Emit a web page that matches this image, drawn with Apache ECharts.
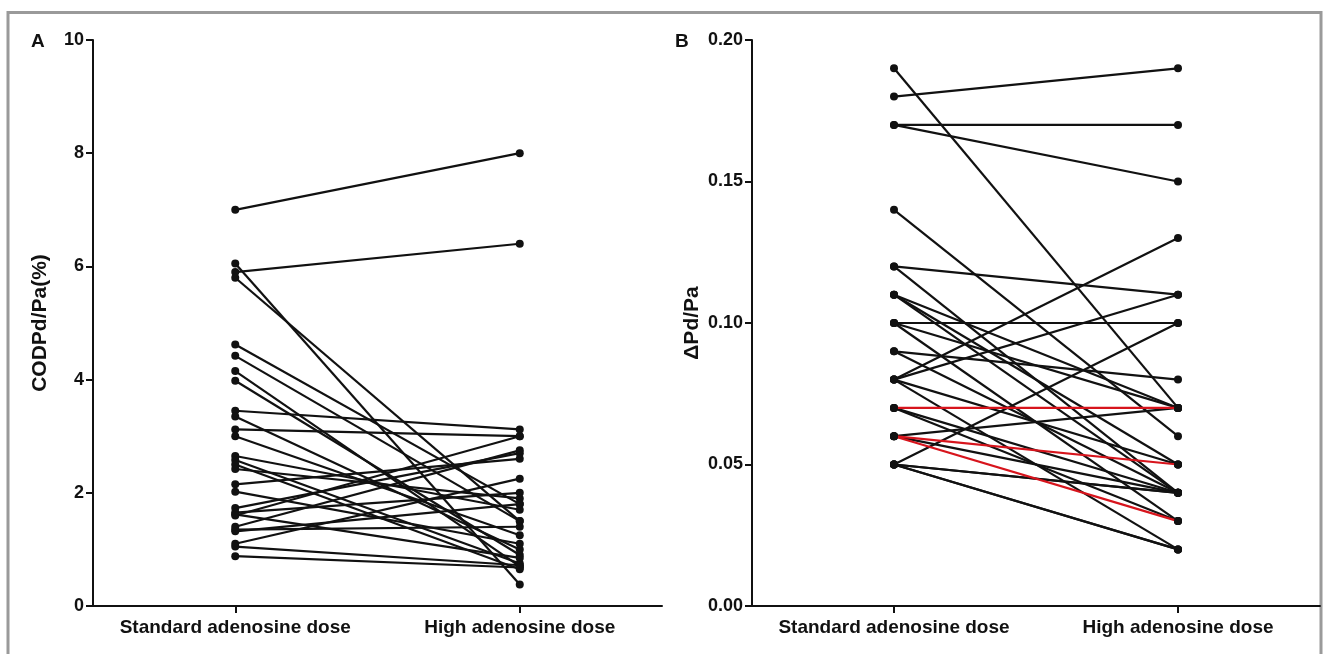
<!DOCTYPE html>
<html>
<head>
<meta charset="utf-8">
<script src="https://cdn.jsdelivr.net/npm/echarts@6/dist/echarts.min.js"></script>
<style>
  html, body { margin: 0; padding: 0; background: #fff; }
  #chart { width: 1328px; height: 654px; }
</style>
</head>
<body>
<div id="chart"></div>
<script>
// Dose groups shown on both panels
const doseGroups = ['Standard adenosine dose', 'High adenosine dose'];

// Panel A: CODPd/Pa (%) per patient, standard vs high dose
const codpStandard = [7.0, 5.9, 6.05, 5.8, 4.62, 4.42, 4.15, 3.98, 3.45, 3.35, 3.12, 3.0, 2.65, 2.58, 2.5, 2.42, 2.15, 2.02, 1.73, 1.62, 1.65, 1.4, 1.32, 1.35, 1.1, 1.05, 0.88, 1.6];
const codpHigh     = [8.0, 6.4, 0.38, 1.5, 1.8, 1.5, 0.7, 0.9, 3.12, 1.0, 3.0, 1.25, 1.7, 0.75, 0.65, 1.9, 2.6, 1.1, 2.7, 0.85, 2.0, 2.75, 1.8, 1.4, 2.25, 0.72, 0.68, 3.0];

// Panel B: ΔPd/Pa per patient, standard vs high dose
const dpdStandard = [0.19, 0.18, 0.17, 0.17, 0.14, 0.12, 0.12, 0.11, 0.11, 0.11, 0.10, 0.10, 0.10, 0.09, 0.09, 0.08, 0.08, 0.08, 0.08, 0.07, 0.07, 0.07, 0.06, 0.06, 0.06, 0.06, 0.05, 0.05, 0.05, 0.05, 0.05];
const dpdHigh     = [0.07, 0.19, 0.17, 0.15, 0.06, 0.11, 0.04, 0.07, 0.05, 0.04, 0.10, 0.07, 0.03, 0.08, 0.04, 0.13, 0.11, 0.05, 0.02, 0.07, 0.04, 0.03, 0.07, 0.05, 0.03, 0.04, 0.10, 0.04, 0.04, 0.02, 0.02];
// Patients drawn in red on panel B (indices into the arrays above)
const dpdHighlighted = [19, 23, 24];

// Axis ticks
const codpTicks = { min: 0, max: 10, interval: 2 };
const dpdTicks = { min: 0, max: 0.2, interval: 0.05 };

const FONT = '"Liberation Sans", Arial, sans-serif';
const INK = '#111';
const RED = '#d7141c';

function pairSeries(std, high, gridIdx, highlighted) {
  const out = [];
  std.forEach((v, i) => {
    const red = highlighted && highlighted.includes(i);
    out.push({
      type: 'line',
      xAxisIndex: gridIdx,
      yAxisIndex: gridIdx,
      data: [v, high[i]],
      symbol: 'circle',
      symbolSize: 8,
      z: red ? 5 : 3,
      lineStyle: { color: red ? RED : INK, width: 2.2 },
      itemStyle: { color: INK },
      silent: true
    });
  });
  return out;
}

const axisLine = { show: true, lineStyle: { color: INK, width: 2 } };
const axisTick = { show: true, length: 7, lineStyle: { color: INK, width: 2 } };

function xAxis(gridIndex) {
  return {
    type: 'category',
    gridIndex,
    data: doseGroups,
    boundaryGap: true,
    axisLine,
    axisTick: Object.assign({ alignWithLabel: true, interval: 0 }, axisTick),
    axisLabel: {
      color: INK, fontFamily: FONT, fontWeight: 'bold', fontSize: 19, margin: 12,
      interval: 0, hideOverlap: false
    },
    splitLine: { show: false }
  };
}

function yAxis(gridIndex, ticks, name, nameGap, decimals) {
  return {
    type: 'value',
    gridIndex,
    min: ticks.min,
    max: ticks.max,
    interval: ticks.interval,
    name,
    nameLocation: 'middle',
    nameGap,
    nameTextStyle: { color: INK, fontFamily: FONT, fontWeight: 'bold', fontSize: 21 },
    axisLine,
    axisTick,
    axisLabel: {
      color: INK, fontFamily: FONT, fontWeight: 'bold', fontSize: 18, margin: 9,
      formatter: v => v.toFixed(decimals)
    },
    splitLine: { show: false }
  };
}

const chart = echarts.init(document.getElementById('chart'), null, { renderer: 'canvas' });
chart.setOption({
  animation: false,
  backgroundColor: '#fff',
  grid: [
    { left: 93, right: 666, top: 40, bottom: 48 },
    { left: 752, right: 8, top: 40, bottom: 48 }
  ],
  xAxis: [xAxis(0), xAxis(1)],
  yAxis: [
    yAxis(0, codpTicks, 'CODPd/Pa(%)', 42, 0),
    yAxis(1, dpdTicks, 'ΔPd/Pa', 49, 2)
  ],
  graphic: [
    {
      type: 'polyline',
      shape: { points: [[8, 700], [8, 12.5], [1321, 12.5], [1321, 700]] },
      style: { stroke: '#9a9a9a', lineWidth: 3, fill: null },
      silent: true
    },
    {
      type: 'text', left: 31, top: 32,
      style: { text: 'A', fill: INK, font: 'bold 19px ' + FONT }
    },
    {
      type: 'text', left: 675, top: 32,
      style: { text: 'B', fill: INK, font: 'bold 19px ' + FONT }
    }
  ],
  series: [
    ...pairSeries(codpStandard, codpHigh, 0, null),
    ...pairSeries(dpdStandard, dpdHigh, 1, dpdHighlighted)
  ]
});
</script>
</body>
</html>
